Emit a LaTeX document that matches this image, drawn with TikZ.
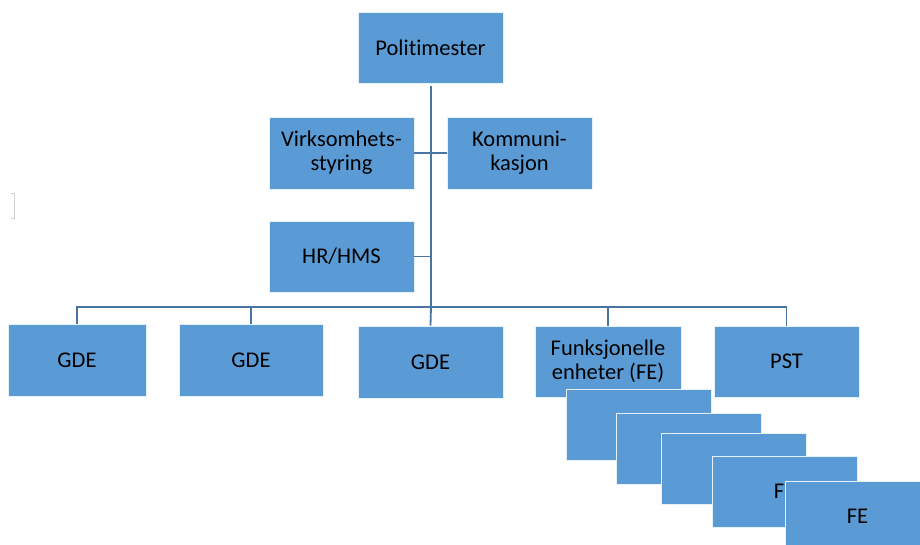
\documentclass[tikz,border=0pt]{standalone}
\usepackage{fontspec}
\setmainfont[Ligatures=NoCommon]{Carlito}
\definecolor{boxfill}{RGB}{91,155,213}
\definecolor{linkblue}{RGB}{72,116,162}
\begin{document}
\begin{tikzpicture}[x=1pt,y=-1pt,
  unit/.style={rectangle, fill=boxfill, draw=white!85!boxfill, line width=0.8pt,
    minimum width=145pt, minimum height=71pt, inner sep=0pt, align=center,
    font=\fontsize{22.5}{24}\selectfont, text=black},
  link/.style={draw=linkblue, line width=1.8pt}]
\useasboundingbox (0,0) rectangle (920,544);
\clip (0,0) rectangle (920,544);

% faint bracket mark on the left margin
\draw[black!18, line width=0.8pt] (11,193) -- (14,193) -- (14,218) -- (11,218);

% management level
\node[unit] (pm) at (430.5,48) {Politimester};
\node[unit, minimum height=72pt] (vs) at (341.5,153) {Virksomhets-\\styring};
\node[unit, minimum height=72pt] (ko) at (519.5,153) {Kommuni-\\kasjon};
\node[unit] (hr) at (341.5,256.5) {HR/HMS};

% units level
\node[unit, minimum width=138pt, minimum height=72pt] (gde1) at (77,360) {GDE};
\node[unit, minimum width=144pt, minimum height=72pt] (gde2) at (251,360) {GDE};
\node[unit, minimum height=72pt] (gde3) at (430.5,362) {GDE};
\node[unit, minimum width=146pt] (fe) at (608,361.5) {Funksjonelle\\enheter (FE)};
\node[unit] (pst) at (786.5,361.5) {PST};

% connectors
\coordinate (bus) at (431,307);
\draw[link] (431,86) -- (bus);
\draw[link] (vs.east) -- (ko.west);
\draw[link] (hr.east) -- (431,256.5);
\draw[link] (gde1.north) |- (pst.north |- bus) -- (pst.north);
\draw[link] (gde2.north) -- (gde2.north |- bus);
\draw[link] (bus) -- (gde3.north);
\draw[link] (fe.north) -- (fe.north |- bus);

% stacked functional units
\node[unit] (fe1) at (639,424.5) {FE};
\node[unit] (fe2) at (688.5,449) {FE};
\node[unit] (fe3) at (734,468.5) {FE};
\node[unit] (fe4) at (784.5,491.5) {FE};
\node[unit] (fe5) at (857.5,516.5) {FE};
\end{tikzpicture}
\end{document}
